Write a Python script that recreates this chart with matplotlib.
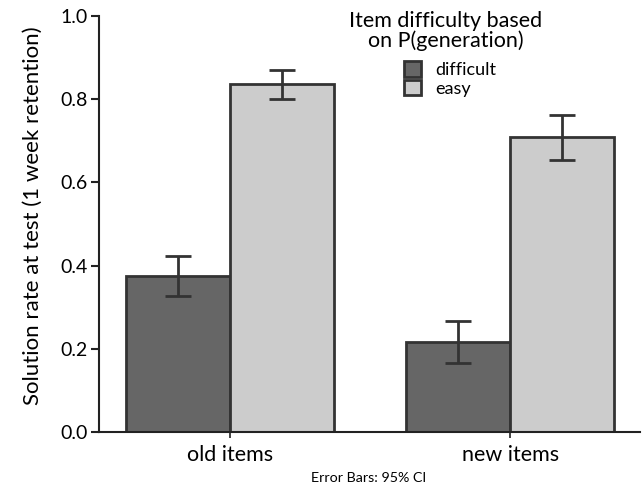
import matplotlib
matplotlib.use("Agg")
import matplotlib.pyplot as plt
import numpy as np

plt.rcParams['font.family'] = ['Lato', 'DejaVu Sans']

# values
groups = ["old items", "new items"]
levels = ["difficult", "easy"]
means = {
    "difficult": [0.375, 0.216],
    "easy": [0.836, 0.708],
}
ci_low = {
    "difficult": [0.326, 0.167],
    "easy": [0.800, 0.653],
}
ci_high = {
    "difficult": [0.423, 0.267],
    "easy": [0.869, 0.762],
}
colors = {"difficult": "#666666", "easy": "#cccccc"}
edge = "#333333"

fig = plt.figure(figsize=(6.43, 4.94), dpi=100)
ax = fig.add_axes([99 / 643, 1 - 432 / 494, (640 - 99) / 643, (432 - 16) / 494])

x = np.arange(len(groups))
w = 0.371
for i, lev in enumerate(levels):
    pos = x - w / 2 + i * w
    m = np.array(means[lev])
    yerr = [m - np.array(ci_low[lev]), np.array(ci_high[lev]) - m]
    ax.bar(pos, m, width=w, color=colors[lev], edgecolor=edge, linewidth=2.0,
           label=lev, zorder=2)
    ax.errorbar(pos, m, yerr=yerr, fmt="none", ecolor=edge, elinewidth=2.0,
                capsize=9.5, capthick=2.0, zorder=3)

ax.set_xlim(-0.468, 1.464)
ax.set_ylim(0, 1.0)
ax.set_xticks(x)
ax.set_xticklabels(groups, fontsize=15.5)
ax.set_yticks([0, 0.2, 0.4, 0.6, 0.8, 1.0])
ax.set_yticklabels(["0.0", "0.2", "0.4", "0.6", "0.8", "1.0"], fontsize=14)
ax.tick_params(axis="y", length=6, width=1.5, color="#222222", pad=2)
ax.tick_params(axis="x", length=4, width=1.2, color="#222222", pad=5)
for s in ["top", "right"]:
    ax.spines[s].set_visible(False)
ax.spines["left"].set_linewidth(1.5)
ax.spines["bottom"].set_linewidth(1.5)
ax.spines["left"].set_color("#222222")
ax.spines["bottom"].set_color("#222222")
ax.set_ylabel("Solution rate at test (1 week retention)", fontsize=16)
ax.yaxis.set_label_coords(-0.104, 0.52)

# legend title drawn on its own so the entries can sit indented below it
fig.text(446 / 643, 1 - 11 / 494, "Item difficulty based\non P(generation)",
         ha="center", va="top", fontsize=15.5, linespacing=0.95,
         multialignment="center")
leg = ax.legend(frameon=False, fontsize=13, loc="upper left",
                bbox_to_anchor=(404 / 643, 1 - 61 / 494), bbox_transform=fig.transFigure,
                handlelength=0.95, handleheight=0.95, handletextpad=0.78,
                labelspacing=0.1, borderpad=0, borderaxespad=0)

fig.text(369 / 643, 1 - 478 / 494, "Error Bars: 95% CI", ha="center", va="center",
         fontsize=10.3)

fig.savefig("out.png", dpi=100)
